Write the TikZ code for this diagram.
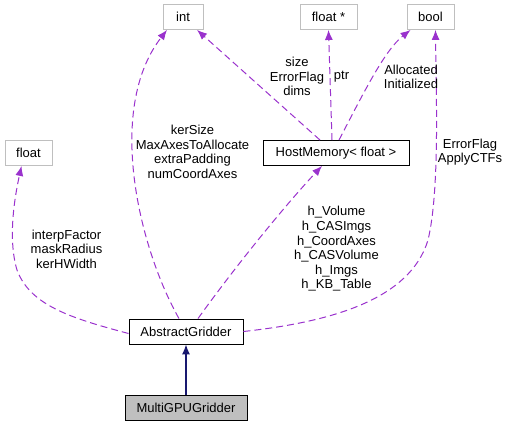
\documentclass[tikz,border=0pt]{standalone}
\usepackage{fontspec}
\setmainfont{Liberation Sans}
\usetikzlibrary{arrows.meta}
\definecolor{edgec}{HTML}{9A32CD}
\definecolor{greyc}{HTML}{BFBFBF}
\definecolor{navy}{HTML}{191970}
\begin{document}
\begin{tikzpicture}[x=1pt,y=-1pt,
  every node/.style={font=\fontsize{13}{14.6}\selectfont, inner sep=0pt},
  box/.style={draw=black, line width=0.9pt, fill=white, minimum height=25pt},
  gbox/.style={draw=greyc, line width=0.9pt, fill=white, minimum height=25pt},
  member/.style={draw=edgec, line width=1pt, dash pattern=on 7pt off 4pt, -{Latex[length=10pt,width=8pt,fill=edgec]}},
  inherit/.style={draw=navy, line width=1.2pt, -{Latex[length=10pt,width=8pt,fill=navy]}},
  lbl/.style={align=center}
]
\useasboundingbox (0,0) rectangle (510,427);
\node[gbox, minimum width=40pt] (int) at (183,17) {int};
\node[gbox, minimum width=57pt] (fs) at (328.5,17) {float *};
\node[gbox, minimum width=47pt] (bool) at (430.5,17) {bool};
\node[box, minimum width=146pt] (hm) at (336,153) {HostMemory< float >};
\node[gbox, minimum width=47pt] (fl) at (28.5,153) {float};
\node[box, minimum width=114pt] (ag) at (186,331.5) {AbstractGridder};
\node[box, fill=greyc, minimum width=122pt] (mg) at (186,408) {MultiGPUGridder};

\draw[member] ([xshift=-7pt]ag.north) .. controls (140,250) and (105,110) .. ([xshift=-16pt]int.south);
\draw[member] ([xshift=-16pt]hm.north) -- ([xshift=14pt]int.south);
\draw[member] ([xshift=-4pt]hm.north) -- ([xshift=0pt]fs.south);
\draw[member] ([xshift=3pt]hm.north) .. controls (365,90) and (385,50) .. ([xshift=-20pt]bool.south);
\draw[member] (ag.east) .. controls (330,322) and (410,300) .. (428,240) .. controls (440,190) and (436,90) .. ([xshift=5pt]bool.south);
\draw[member] ([xshift=12pt]ag.north) .. controls (240,260) and (290,200) .. ([xshift=-14pt]hm.south);
\draw[member] ([yshift=-2pt]ag.west) .. controls (70,318) and (30,305) .. (17,270) .. controls (8,240) and (14,200) .. ([xshift=-7pt]fl.south);
\draw[inherit] (mg.north) -- (ag.south);

\node[lbl] (l1) at (297,76.5) {size\\ErrorFlag\\dims};
\node[lbl] (l2) at (341.5,77) {ptr};
\node[lbl] (l3) at (411,77) {Allocated\\Initialized};
\node[lbl] (l4) at (192.5,152) {kerSize\\MaxAxesToAllocate\\extraPadding\\numCoordAxes};
\node[lbl] (l5) at (470,152) {ErrorFlag\\ApplyCTFs};
\node[lbl] (l6) at (66.5,249) {interpFactor\\maskRadius\\kerHWidth};
\node[lbl] (l7) at (336.5,249) {h\_Volume\\h\_CASImgs\\h\_CoordAxes\\h\_CASVolume\\h\_Imgs\\h\_KB\_Table};
\end{tikzpicture}
\end{document}
